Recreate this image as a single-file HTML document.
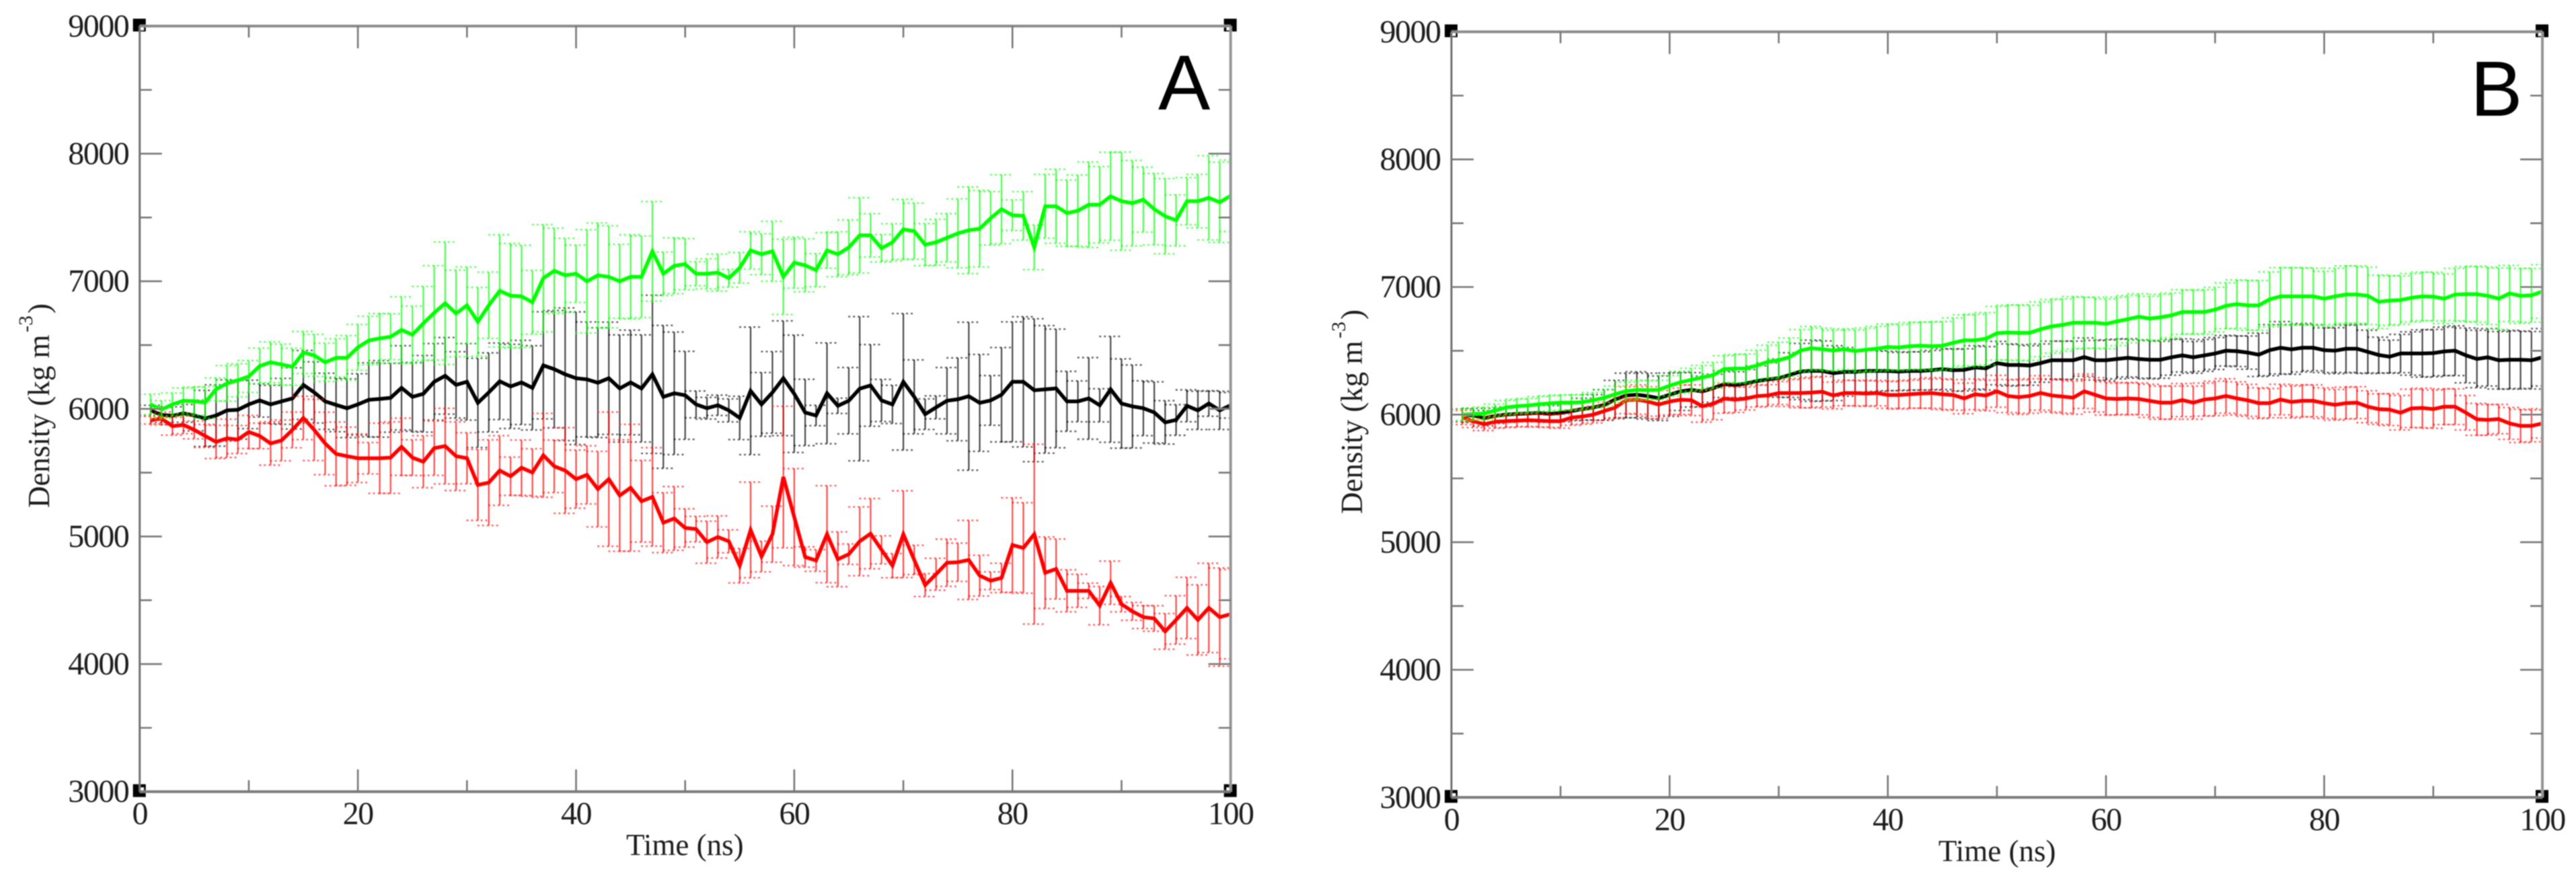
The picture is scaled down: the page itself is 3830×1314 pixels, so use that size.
<!DOCTYPE html>
<html lang="en">
<head>
<meta charset="utf-8">
<title>Density vs Time, panels A and B</title>
<style>
  html, body { margin: 0; padding: 0; background: #fff; }
  svg { display: block; }
  .tick-label { font-family: "Liberation Serif", serif; font-size: 48px; letter-spacing: -1.5px; fill: #1c1c1c; }
  .axis-title { font-family: "Liberation Serif", serif; font-size: 45px; fill: #1c1c1c; }
  .panel-letter { font-family: "Liberation Sans", sans-serif; font-size: 116px; fill: #000; }
</style>
</head>
<body>
<svg id="figure" xmlns="http://www.w3.org/2000/svg" width="3830" height="1314" viewBox="0 0 3830 1314">
  <rect x="0" y="0" width="3830" height="1314" fill="#ffffff"/>
  <defs>
    <filter id="soft" x="-2%" y="-2%" width="104%" height="104%"><feGaussianBlur stdDeviation="0.8"/></filter>
    <clipPath id="clip-a"><rect x="207.7" y="20" width="1622" height="1157"/></clipPath>
    <clipPath id="clip-b"><rect x="2158" y="20" width="1622" height="1166"/></clipPath>
  </defs>
  <g id="panel-a" filter="url(#soft)">
    <text class="axis-title" x="931" y="1271">Time (ns)</text>
    <text class="axis-title" transform="translate(73,755) rotate(-90)"><tspan x="0" y="0">Density (kg m</tspan><tspan x="261" y="-25" font-size="30">-3</tspan><tspan x="289" y="0">)</tspan></text>
    <text class="panel-letter" x="1722" y="163">A</text>
  </g>
  <g id="panel-b" filter="url(#soft)">
    <text class="axis-title" x="2882" y="1280">Time (ns)</text>
    <text class="axis-title" transform="translate(2025,764) rotate(-90)"><tspan x="0" y="0">Density (kg m</tspan><tspan x="261" y="-25" font-size="30">-3</tspan><tspan x="289" y="0">)</tspan></text>
    <text class="panel-letter" x="3673" y="172">B</text>
  </g>
</svg>
<script>
const timeNs = [
  1,2,3,4,5,6,7,8,9,10,
  11,12,13,14,15,16,17,18,19,20,
  21,22,23,24,25,26,27,28,29,30,
  31,32,33,34,35,36,37,38,39,40,
  41,42,43,44,45,46,47,48,49,50,
  51,52,53,54,55,56,57,58,59,60,
  61,62,63,64,65,66,67,68,69,70,
  71,72,73,74,75,76,77,78,79,80,
  81,82,83,84,85,86,87,88,89,90,
  91,92,93,94,95,96,97,98,99,100
];
const xTickLabels = [0, 20, 40, 60, 80, 100];
const xMinorTicks = [10, 30, 50, 70, 90];
const yTickLabels = [3000, 4000, 5000, 6000, 7000, 8000, 9000];
const yMinorTicks = [3500, 4500, 5500, 6500, 7500, 8500];

const aBlackMean = [
  5988,5953,5946,5965,5948,5925,5948,5988,5993,6035,
  6066,6035,6059,6082,6188,6129,6059,6031,6005,6035,
  6071,6078,6087,6165,6094,6118,6212,6259,6188,6212,
  6047,6129,6216,6176,6207,6165,6341,6311,6271,6240,
  6231,6205,6240,6160,6207,6160,6271,6094,6122,6106,
  6035,6005,6028,5988,5929,6141,6035,6129,6240,6118,
  5972,5948,6122,6024,6064,6158,6184,6066,6035,6212,
  6094,5958,6012,6064,6075,6099,6047,6066,6111,6212,
  6212,6146,6153,6160,6059,6059,6082,6028,6153,6042,
  6019,6005,5972,5894,5913,6024,5988,6042,5988,6028
];
const aBlackErr = [
  40,60,70,70,120,220,240,240,230,190,
  130,150,180,240,270,240,220,210,230,240,
  290,300,270,330,270,300,300,300,260,300,
  350,310,300,330,330,330,420,460,520,520,
  450,430,440,420,410,420,620,560,480,345,
  105,85,80,90,170,500,250,320,450,460,
  260,80,395,60,260,565,320,165,150,535,
  290,120,90,260,325,580,380,195,370,470,
  510,560,500,465,235,160,320,130,415,350,
  325,215,240,170,120,125,150,100,150,100
];
const aRedMean = [
  5911,5925,5864,5875,5835,5788,5741,5769,5760,5819,
  5788,5729,5753,5835,5929,5835,5729,5647,5629,5613,
  5613,5613,5618,5703,5618,5586,5692,5708,5629,5613,
  5404,5422,5517,5472,5539,5501,5636,5550,5517,5449,
  5483,5371,5449,5321,5382,5276,5310,5108,5141,5067,
  5058,4955,4996,4962,4771,5051,4843,5018,5466,5152,
  4839,4812,5018,4821,4861,4962,5022,4895,4771,5018,
  4816,4619,4704,4794,4798,4816,4693,4653,4675,4933,
  4910,5018,4716,4745,4574,4574,4574,4458,4637,4469,
  4413,4368,4357,4256,4346,4440,4346,4440,4368,4391
];
const aRedErr = [
  30,50,70,70,70,90,130,150,110,130,
  100,170,160,140,170,240,245,250,228,190,
  123,275,280,224,140,204,213,296,269,200,
  278,336,273,150,217,186,329,206,336,228,
  228,296,526,437,497,320,386,235,250,150,
  100,165,165,90,135,375,120,220,555,380,
  80,85,380,215,80,270,275,110,95,340,
  115,90,125,185,150,310,160,70,115,370,
  355,705,280,235,165,130,60,150,170,60,
  70,90,100,140,190,240,275,350,385,350
];
const aGreenMean = [
  6035,5995,6035,6064,6060,6050,6153,6200,6224,6254,
  6336,6365,6348,6330,6442,6419,6365,6400,6400,6482,
  6536,6553,6565,6619,6581,6670,6753,6828,6748,6812,
  6682,6812,6925,6887,6882,6835,7024,7082,7047,7059,
  7000,7047,7035,7000,7035,7035,7235,7059,7122,7134,
  7059,7059,7068,7024,7106,7242,7212,7235,7035,7146,
  7125,7087,7242,7212,7266,7360,7360,7259,7306,7407,
  7393,7287,7306,7341,7376,7400,7412,7494,7565,7518,
  7513,7266,7588,7588,7534,7553,7600,7600,7666,7628,
  7612,7640,7565,7510,7478,7628,7628,7654,7619,7670
];
const aGreenErr = [
  80,70,90,100,110,125,90,140,130,125,
  140,160,160,145,165,165,150,150,175,180,
  190,195,180,260,225,290,370,480,340,300,
  270,260,440,410,400,250,420,335,290,225,
  405,410,400,290,330,320,390,170,219,200,
  94,118,145,70,120,146,160,235,295,200,
  208,130,140,176,215,295,170,108,145,235,
  220,165,180,190,270,340,300,210,270,120,
  190,175,250,290,260,280,335,300,345,385,
  335,255,280,295,200,185,210,330,315,280
];

const bBlackMean = [
  5994,5994,5972,5990,6000,6006,6009,6013,6006,6013,
  6028,6043,6056,6075,6118,6150,6156,6145,6128,6156,
  6182,6194,6182,6207,6239,6231,6244,6263,6276,6286,
  6310,6338,6344,6342,6325,6335,6335,6342,6342,6342,
  6338,6342,6342,6348,6357,6348,6351,6370,6363,6404,
  6389,6389,6385,6404,6426,6426,6426,6451,6426,6426,
  6436,6445,6436,6430,6430,6449,6464,6449,6464,6479,
  6501,6497,6486,6469,6505,6524,6511,6524,6524,6505,
  6501,6516,6516,6492,6467,6454,6479,6479,6479,6482,
  6495,6501,6464,6436,6449,6426,6430,6430,6426,6449
];
const bBlackErr = [
  50,55,60,60,60,60,65,65,65,70,
  75,85,100,120,150,175,180,180,175,170,
  150,135,120,110,105,105,110,120,130,150,
  175,220,240,235,215,190,175,165,160,155,
  150,150,150,155,160,165,165,170,170,170,
  165,160,155,150,150,150,150,150,155,160,
  155,150,150,150,145,140,130,125,125,125,
  120,120,130,170,200,205,195,190,180,175,
  180,185,190,170,140,130,150,170,185,185,
  190,195,215,225,225,225,230,225,225,225
];
const bRedMean = [
  5977,5949,5925,5944,5949,5953,5957,5953,5949,5949,
  5977,5985,6000,6028,6056,6113,6118,6103,6079,6103,
  6117,6113,6066,6085,6126,6117,6126,6145,6150,6169,
  6169,6169,6173,6179,6150,6169,6169,6165,6169,6154,
  6154,6160,6165,6169,6160,6154,6127,6159,6150,6183,
  6146,6137,6146,6170,6150,6142,6133,6183,6155,6127,
  6123,6127,6123,6108,6094,6094,6114,6094,6118,6127,
  6146,6127,6112,6090,6090,6118,6099,6108,6108,6090,
  6077,6090,6094,6062,6043,6039,6015,6049,6052,6043,
  6062,6062,6015,5963,5959,5965,5931,5912,5912,5931
];
const bRedErr = [
  55,50,50,50,50,50,50,50,50,55,
  60,60,65,70,80,105,115,115,110,105,
  115,120,125,125,115,100,90,85,85,90,
  105,115,120,120,105,100,100,100,100,105,
  110,110,115,120,120,120,120,120,120,125,
  130,135,135,135,130,130,130,135,135,130,
  125,125,125,130,130,130,130,130,130,135,
  135,130,125,120,115,120,125,125,125,120,
  120,125,125,125,120,125,135,150,155,150,
  140,140,135,125,120,115,125,130,125,115
];
const bGreenMean = [
  6000,6006,6009,6032,6056,6066,6071,6081,6088,6094,
  6094,6098,6113,6132,6160,6184,6194,6192,6194,6226,
  6254,6273,6291,6310,6357,6361,6361,6385,6414,6427,
  6451,6502,6521,6513,6502,6513,6498,6508,6517,6530,
  6526,6536,6540,6536,6540,6563,6582,6582,6595,6638,
  6643,6641,6641,6669,6692,6703,6720,6720,6720,6711,
  6731,6748,6767,6753,6763,6778,6804,6804,6804,6823,
  6853,6866,6856,6856,6903,6927,6927,6927,6927,6909,
  6927,6941,6941,6931,6884,6894,6898,6916,6927,6925,
  6909,6941,6944,6944,6931,6909,6950,6931,6935,6965
];
const bGreenErr = [
  45,45,50,50,55,55,55,60,60,60,
  60,60,60,65,65,70,75,75,75,80,
  85,90,95,100,105,110,115,120,130,140,
  150,165,170,165,160,160,165,170,175,180,
  180,185,185,190,190,195,200,205,205,210,
  215,220,215,215,210,205,205,200,200,195,
  190,185,180,175,180,175,175,170,175,175,
  180,190,195,195,215,225,225,225,220,215,
  220,225,225,225,210,195,190,190,190,190,
  195,205,215,220,225,240,220,215,210,210
];

const SVG_NS = 'http://www.w3.org/2000/svg';

function addLine(parent, name, x1, y1, x2, y2, stroke, width, dash, opacity) {
  const el = document.createElementNS(SVG_NS, 'line');
  
  
  el.setAttribute('x1', x1);
  el.setAttribute('y1', y1);
  el.setAttribute('x2', x2);
  el.setAttribute('y2', y2);
  el.setAttribute('stroke', stroke);
  el.setAttribute('stroke-width', width);
  if (dash) el.setAttribute('stroke-dasharray', dash);
  if (opacity) el.setAttribute('opacity', opacity);
  parent.appendChild(el);
  return el;
}

function addRect(parent, name, x, y, w, h, fill) {
  const el = document.createElementNS(SVG_NS, 'rect');
  
  
  el.setAttribute('x', x);
  el.setAttribute('y', y);
  el.setAttribute('width', w);
  el.setAttribute('height', h);
  el.setAttribute('fill', fill);
  parent.appendChild(el);
  return el;
}

function addLabel(parent, name, x, y, anchor, content) {
  const el = document.createElementNS(SVG_NS, 'text');
  
  
  el.setAttribute('class', 'tick-label');
  el.setAttribute('x', x);
  el.setAttribute('y', y);
  el.setAttribute('text-anchor', anchor);
  el.textContent = content;
  parent.appendChild(el);
  return el;
}

function addGroup(parent, name) {
  const el = document.createElementNS(SVG_NS, 'g');
  
  
  parent.appendChild(el);
  return el;
}

function drawAxes(root, key, left, right, top, bottom, xScale, yScale) {
  const g = addGroup(root, 'axes-' + key);
  const corners = [[left, top], [right, top], [left, bottom], [right, bottom]];
  corners.forEach(function (c, i) {
    addRect(g, 'corner-marker-' + key + '-' + i, c[0] - 10, c[1] - 11, 19, 19, '#000');
    addRect(g, 'corner-notch-' + key + '-' + i, c[0] + (c[0] === left ? 1 : -6), c[1] + (c[1] === top ? 1 : -6), 5, 5, '#fff');
  });
  addLine(g, 'left-axis-' + key, left, top, left, bottom, '#6e6e6e', 3);
  addLine(g, 'right-axis-' + key, right, top, right, bottom, '#949494', 4);
  addLine(g, 'top-axis-' + key, left, top, right, top, '#8a8a8a', 4);
  addLine(g, 'bottom-axis-' + key, left, bottom, right, bottom, '#7a7a7a', 4);

  xTickLabels.forEach(function (v) {
    const x = xScale(v);
    if (v > 0 && v < 100) {
      addLine(g, 'x-major-tick-bottom-' + key + '-' + v, x, bottom, x, bottom - 33, '#777', 2.6);
      addLine(g, 'x-major-tick-top-' + key + '-' + v, x, top, x, top + 33, '#777', 2.6);
    }
    addLabel(g, 'x-tick-label-' + key + '-' + v, x, bottom + 48.5, 'middle', String(v));
  });
  xMinorTicks.forEach(function (v) {
    const x = xScale(v);
    addLine(g, 'x-minor-tick-bottom-' + key + '-' + v, x, bottom, x, bottom - 17, '#777', 2.6);
    addLine(g, 'x-minor-tick-top-' + key + '-' + v, x, top, x, top + 17, '#777', 2.6);
  });
  yTickLabels.forEach(function (v) {
    const y = yScale(v);
    if (v > 3000 && v < 9000) {
      addLine(g, 'y-major-tick-left-' + key + '-' + v, left, y, left + 33, y, '#777', 2.6);
      addLine(g, 'y-major-tick-right-' + key + '-' + v, right, y, right - 33, y, '#777', 2.6);
    }
    addLabel(g, 'y-tick-label-' + key + '-' + v, left - 16.5, y + 15.5, 'end', String(v));
  });
  yMinorTicks.forEach(function (v) {
    const y = yScale(v);
    addLine(g, 'y-minor-tick-left-' + key + '-' + v, left, y, left + 18, y, '#777', 2.6);
    addLine(g, 'y-minor-tick-right-' + key + '-' + v, right, y, right - 18, y, '#777', 2.6);
  });
}

function drawSeries(root, key, seriesName, color, barOpacity, means, errs, xScale, yScale, clipId) {
  const g = addGroup(root, 'series-' + seriesName + '-' + key);
  g.setAttribute('clip-path', 'url(#' + clipId + ')');
  timeNs.forEach(function (t, i) {
    const x = xScale(t);
    const yUp = yScale(means[i] + errs[i]);
    const yDown = yScale(means[i] - errs[i]);
    addLine(g, 'error-bar-' + seriesName + '-' + t, x, yUp, x, yDown, color, 2.2, null, barOpacity);
    addLine(g, 'error-cap-upper-' + seriesName + '-' + t, x - 17, yUp, x + 17, yUp, color, 2.4, '3 4', barOpacity * 0.85);
    addLine(g, 'error-cap-lower-' + seriesName + '-' + t, x - 17, yDown, x + 17, yDown, color, 2.4, '3 4', barOpacity * 0.85);
  });
  const path = document.createElementNS(SVG_NS, 'polyline');
  
  
  path.setAttribute('points', timeNs.map(function (t, i) { return xScale(t).toFixed(1) + ',' + yScale(means[i]).toFixed(1); }).join(' '));
  path.setAttribute('fill', 'none');
  path.setAttribute('stroke', color);
  path.setAttribute('stroke-width', '5.5');
  path.setAttribute('stroke-linejoin', 'miter');
  g.appendChild(path);
}

function makeScale(d0, d1, r0, r1) {
  return function (v) { return r0 + (v - d0) / (d1 - d0) * (r1 - r0); };
}

const xA = makeScale(0, 100, 207.7, 1829.7);
const yA = makeScale(3000, 9000, 1176.7, 38.8);
const xB = makeScale(0, 100, 2158, 3780);
const yB = makeScale(3000, 9000, 1185.3, 47.3);

const rootA = document.getElementById('panel-a');
const rootB = document.getElementById('panel-b');

drawSeries(rootA, 'a', 'black', '#000000', 0.72, aBlackMean, aBlackErr, xA, yA, 'clip-a');
drawSeries(rootA, 'a', 'red', '#ff0000', 0.72, aRedMean, aRedErr, xA, yA, 'clip-a');
drawSeries(rootA, 'a', 'green', '#00ff00', 0.72, aGreenMean, aGreenErr, xA, yA, 'clip-a');
drawAxes(rootA, 'a', 207.7, 1829.7, 38.8, 1176.7, xA, yA);

drawSeries(rootB, 'b', 'black', '#000000', 0.72, bBlackMean, bBlackErr, xB, yB, 'clip-b');
drawSeries(rootB, 'b', 'red', '#ff0000', 0.72, bRedMean, bRedErr, xB, yB, 'clip-b');
drawSeries(rootB, 'b', 'green', '#00ff00', 0.72, bGreenMean, bGreenErr, xB, yB, 'clip-b');
drawAxes(rootB, 'b', 2158, 3780, 47.3, 1185.3, xB, yB);
</script>
</body>
</html>
